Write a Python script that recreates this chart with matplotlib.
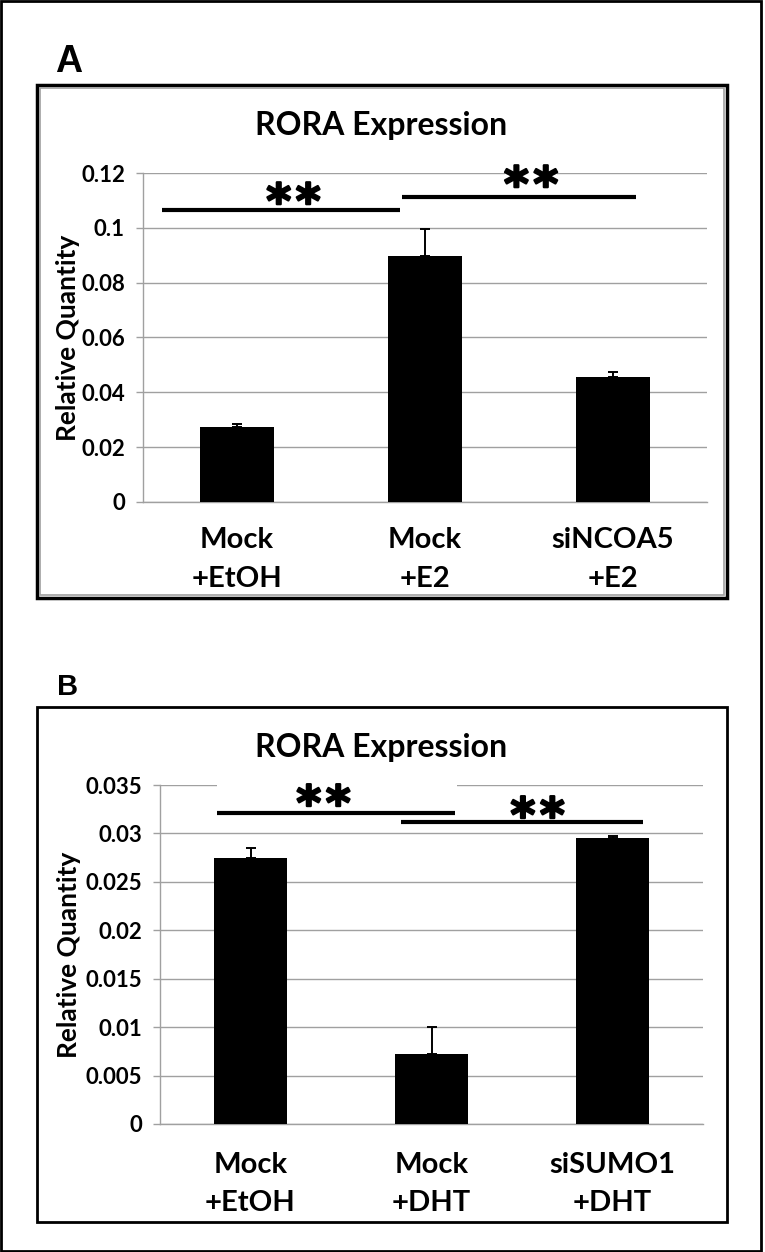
import matplotlib
matplotlib.use("Agg")
import matplotlib.pyplot as plt
import matplotlib.patheffects as pe
from matplotlib.patches import Rectangle

# Panel A: RORA expression with E2 / siNCOA5
groups_a = ["Mock\n+EtOH", "Mock\n+E2", "siNCOA5\n+E2"]
values_a = [0.0273, 0.0896, 0.0456]
errors_a = [0.0012, 0.0099, 0.0018]
yticks_a = [0, 0.02, 0.04, 0.06, 0.08, 0.1, 0.12]

# Panel B: RORA expression with DHT / siSUMO1
groups_b = ["Mock\n+EtOH", "Mock\n+DHT", "siSUMO1\n+DHT"]
values_b = [0.0275, 0.0072, 0.0295]
errors_b = [0.0010, 0.0028, 0.0002]
yticks_b = [0, 0.005, 0.01, 0.015, 0.02, 0.025, 0.03, 0.035]

W, H = 765, 1252
FONT = ["Lato", "DejaVu Sans"]
plt.rcParams["font.family"] = FONT
plt.rcParams["font.weight"] = "bold"

fig = plt.figure(figsize=(W / 100, H / 100), dpi=100)
fig.patch.set_facecolor("white")


def px_rect(x0, y0, x1, y1):
    """pixel box (origin top-left) -> figure fraction [l, b, w, h]"""
    return [x0 / W, 1 - y1 / H, (x1 - x0) / W, (y1 - y0) / H]


def box(x0, y0, x1, y1, lw, color="black"):
    l, b, w, h = px_rect(x0, y0, x1, y1)
    fig.patches.append(Rectangle((l, b), w, h, transform=fig.transFigure,
                                 fill=False, lw=lw, edgecolor=color))


def stars(ax, x, y):
    ax.text(x, y, "*\u200a*", fontsize=34, fontweight="bold", ha="center",
            va="center", family=["DejaVu Sans"], zorder=6,
            path_effects=[pe.withStroke(linewidth=1.6, foreground="black")])


def sig_line(ax, x0, x1, y):
    ax.plot([x0, x1], [y, y], color="black", lw=3, solid_capstyle="butt",
            clip_on=False, zorder=5)


def draw_panel(ax, groups, values, errors, yticks, width, label_x, xpad):
    x = list(range(len(groups)))
    ax.bar(x, values, width=width, color="black", zorder=3)
    ax.errorbar(x, values, yerr=[[0] * len(values), errors], fmt="none",
                ecolor="black", elinewidth=1.4, capsize=3.5, capthick=1.4,
                zorder=4)
    ax.set_xlim(-0.5, len(groups) - 0.5)
    ax.set_ylim(yticks[0], yticks[-1])
    ax.set_yticks(yticks)
    ax.set_yticklabels([f"{t:g}" for t in yticks], fontsize=16,
                       fontweight="bold")
    ax.set_xticks(x)
    ax.set_xticklabels(groups, fontsize=21, fontweight="bold",
                       linespacing=1.6)
    ax.yaxis.grid(True, color="#a0a0a0", lw=1)
    ax.set_axisbelow(True)
    for s in ["top", "right"]:
        ax.spines[s].set_visible(False)
    for s in ["left", "bottom"]:
        ax.spines[s].set_color("#a0a0a0")
        ax.spines[s].set_linewidth(1)
    ax.tick_params(axis="y", length=5, color="#a0a0a0", width=1, pad=8)
    ax.tick_params(axis="x", length=0, pad=xpad)
    ax.set_ylabel("Relative Quantity", fontsize=19, fontweight="bold")
    ax.yaxis.set_label_coords(label_x, 0.5)


# outer frame
box(1, 1, 761, 1251, 2)

# ---- panel A ----
box(37, 85, 727, 598, 2.5)
box(40, 88, 724, 595, 1.2, "#a0a0a0")
fig.text(55 / W, 1 - 72 / H, "A", fontsize=27, fontweight="bold",
         family=["Liberation Sans", "DejaVu Sans"], va="baseline")
fig.text((258 + 505) / 2 / W, 1 - 125 / H, "RORA Expression", fontsize=23,
         fontweight="bold", ha="center", va="center")
ax_a = fig.add_axes(px_rect(143, 173, 707, 502))
draw_panel(ax_a, groups_a, values_a, errors_a, yticks_a, 0.39, -0.112, 18)
# white text box hiding part of the top gridline
ax_a.add_patch(Rectangle((1.426, 0.1185), 0.276, 0.003, facecolor="white",
                         edgecolor="none", clip_on=False, zorder=2))
sig_line(ax_a, -0.399, 0.867, 0.1065)
sig_line(ax_a, 0.878, 2.122, 0.1112)
stars(ax_a, 0.300, 0.1084)
stars(ax_a, 1.564, 0.1146)

# ---- panel B ----
box(37, 707, 727, 1222, 2)
fig.text(57 / W, 1 - 695 / H, "B", fontsize=21, fontweight="bold",
         family=["Liberation Sans", "DejaVu Sans"], va="baseline")
fig.text((258 + 505) / 2 / W, 1 - 748 / H, "RORA Expression", fontsize=23,
         fontweight="bold", ha="center", va="center")
ax_b = fig.add_axes(px_rect(160, 785, 703, 1124))
draw_panel(ax_b, groups_b, values_b, errors_b, yticks_b, 0.40, -0.146, 20)
# white text box hiding part of the top gridline
ax_b.add_patch(Rectangle((-0.185, 0.0333), 1.325, 0.0025, facecolor="white",
                         edgecolor="none", clip_on=False, zorder=2))
sig_line(ax_b, -0.185, 1.130, 0.0321)
sig_line(ax_b, 0.831, 2.169, 0.0312)
stars(ax_b, 0.403, 0.03276)
stars(ax_b, 1.586, 0.03152)

fig.savefig("out.png", dpi=100, facecolor="white")
